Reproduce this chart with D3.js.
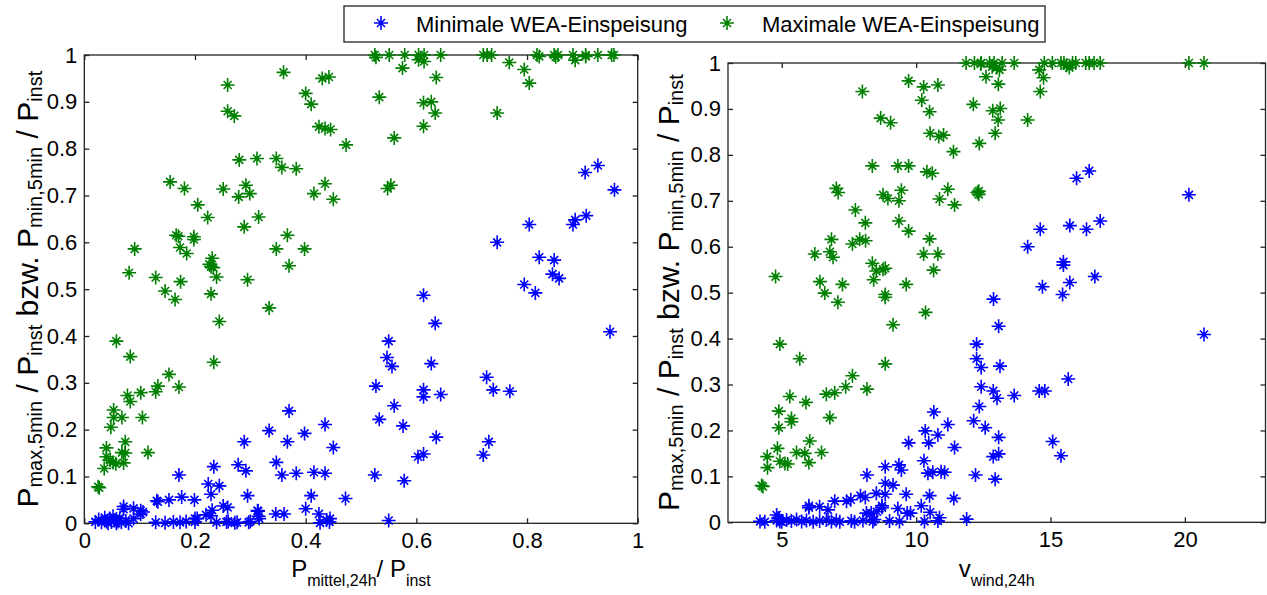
<!DOCTYPE html>
<html>
<head>
<meta charset="utf-8">
<script src="https://cdn.jsdelivr.net/npm/d3@7"></script>
<style>
body { margin: 0; background: #fff; }
svg text { font-family: "Liberation Sans", Arial, sans-serif; fill: #000; }
</style>
</head>
<body>
<script>
// series names
var legendLabels = ["Minimale WEA-Einspeisung", "Maximale WEA-Einspeisung"];

// left plot: x = P_mittel,24h / P_inst
var leftMin = [
[0.905,0.749],[0.928,0.764],[0.958,0.712],[0.804,0.638],[0.883,0.638],[0.887,0.648],[0.907,0.657],[0.746,0.600],
[0.822,0.568],[0.849,0.562],[0.846,0.532],[0.858,0.523],[0.795,0.510],[0.815,0.492],[0.613,0.487],
[0.950,0.409],[0.634,0.427],[0.550,0.389],[0.547,0.354],[0.556,0.335],[0.627,0.341],[0.527,0.293],[0.613,0.285],
[0.613,0.270],[0.644,0.275],[0.727,0.312],[0.739,0.285],[0.769,0.282],[0.560,0.251],[0.533,0.222],[0.576,0.208],
[0.636,0.184],[0.731,0.174],[0.603,0.142],[0.613,0.148],[0.721,0.146],[0.525,0.103],[0.578,0.091],[0.550,0.006],
[0.370,0.240],[0.435,0.211],[0.334,0.198],[0.398,0.192],[0.450,0.162],[0.289,0.174],[0.367,0.174],[0.347,0.130],
[0.278,0.125],[0.292,0.112],[0.234,0.121],[0.357,0.103],[0.383,0.107],[0.415,0.109],[0.435,0.107],[0.171,0.103],
[0.224,0.084],[0.244,0.080],[0.229,0.062],[0.295,0.059],[0.410,0.059],[0.472,0.053],[0.131,0.048],[0.133,0.046],
[0.153,0.050],[0.176,0.056],[0.199,0.050],[0.071,0.036],[0.071,0.030],[0.089,0.032],[0.102,0.027],[0.106,0.024],
[0.251,0.037],[0.259,0.034],[0.231,0.028],[0.220,0.018],[0.229,0.016],[0.313,0.027],[0.346,0.020],[0.361,0.020],
[0.400,0.031],[0.424,0.020],[0.438,0.007],[0.444,0.010],[0.426,0.001],[0.314,0.026],[0.316,0.010],
[0.020,0.003],[0.026,0.008],[0.031,0.002],[0.037,0.012],[0.040,0.004],[0.043,0.000],[0.046,0.010],[0.049,0.003],
[0.052,0.015],[0.055,0.006],[0.058,0.000],[0.061,0.004],[0.064,0.011],[0.067,0.002],[0.075,0.005],[0.080,0.000],
[0.089,0.010],[0.102,0.020],[0.129,0.002],[0.146,0.001],[0.161,0.003],[0.173,0.002],[0.184,0.004],[0.200,0.003],
[0.204,0.010],[0.239,0.002],[0.257,0.003],[0.272,0.001],[0.300,0.004],[0.315,0.015],[0.260,0.004],[0.276,0.002],
[0.297,0.002],[0.200,0.010],[0.443,0.003]
];
var leftMax = [
[0.525,1],[0.527,0.995],[0.551,1],[0.579,1],[0.604,1],[0.614,1],[0.604,0.99],[0.614,0.986],[0.644,1],[0.721,1],
[0.728,1],[0.736,1],[0.818,1],[0.822,0.997],[0.849,1],[0.856,1],[0.852,0.996],[0.883,1],[0.906,1],[0.906,0.997],
[0.928,1],[0.953,1],[0.957,1],
[0.575,0.972],[0.768,0.984],[0.795,0.969],[0.804,0.940],[0.887,0.989],[0.636,0.952],[0.533,0.910],[0.613,0.898],
[0.627,0.900],[0.634,0.876],[0.613,0.848],[0.746,0.876],[0.560,0.823],[0.548,0.715],[0.554,0.722],
[0.360,0.963],[0.430,0.950],[0.442,0.953],[0.259,0.936],[0.400,0.918],[0.410,0.895],[0.259,0.880],[0.271,0.870],
[0.424,0.847],[0.435,0.843],[0.445,0.841],[0.473,0.808],[0.280,0.776],[0.312,0.779],[0.347,0.779],[0.357,0.760],
[0.383,0.757],[0.155,0.729],[0.181,0.715],[0.251,0.714],[0.292,0.722],[0.279,0.697],[0.299,0.704],[0.415,0.704],
[0.435,0.725],[0.450,0.692],[0.205,0.680],[0.223,0.653],[0.315,0.654],[0.289,0.633],[0.166,0.615],[0.170,0.613],
[0.198,0.612],[0.198,0.606],[0.367,0.615],[0.091,0.586],[0.173,0.589],[0.185,0.576],[0.347,0.586],[0.398,0.586],
[0.231,0.566],[0.226,0.553],[0.229,0.548],[0.233,0.546],[0.370,0.550],[0.081,0.535],[0.129,0.525],[0.174,0.516],
[0.239,0.526],[0.295,0.520],
[0.146,0.496],[0.164,0.478],[0.229,0.490],[0.334,0.460],[0.244,0.431],[0.058,0.389],[0.083,0.356],[0.234,0.344],
[0.153,0.318],[0.133,0.293],[0.129,0.281],[0.171,0.291],[0.102,0.279],[0.078,0.273],[0.083,0.260],[0.105,0.226],
[0.053,0.242],[0.053,0.226],[0.068,0.226],[0.048,0.205],[0.040,0.161],[0.040,0.142],[0.074,0.174],[0.068,0.151],
[0.074,0.150],[0.115,0.151],[0.071,0.129],[0.052,0.130],[0.057,0.127],[0.047,0.135],[0.036,0.117],[0.025,0.078],
[0.027,0.076]
];

// right plot: x = v_wind,24h
var rightMin = [
[16.44,0.765],[15.97,0.749],[20.15,0.713],[16.85,0.656],[14.62,0.638],[15.72,0.646],[16.34,0.638],[14.15,0.600],
[15.48,0.567],[15.48,0.560],[16.65,0.535],[14.70,0.513],[15.72,0.522],[15.45,0.496],[12.88,0.486],[20.71,0.409],
[13.07,0.427],[13.12,0.340],[15.66,0.312],[12.87,0.286],[13.01,0.270],[13.65,0.276],[14.58,0.286],[14.79,0.286],
[13.07,0.185],[12.87,0.143],[13.07,0.149],[15.08,0.176],[15.39,0.145],[12.94,0.094],
[12.25,0.388],[12.25,0.356],[12.42,0.337],[12.42,0.295],[12.35,0.252],[10.66,0.240],[12.14,0.221],[12.57,0.206],
[10.34,0.199],[11.18,0.213],[10.81,0.190],[9.72,0.173],[10.47,0.173],[11.43,0.163],[8.85,0.121],[9.36,0.125],
[9.45,0.114],[10.29,0.134],[8.17,0.103],[10.44,0.107],[10.62,0.109],[10.93,0.110],[11.06,0.109],[12.21,0.103],
[8.85,0.085],[9.14,0.081],[8.52,0.063],[8.85,0.061],[9.63,0.061],[10.50,0.058],[11.40,0.052],[6.97,0.046],
[7.41,0.046],[7.57,0.049],[7.93,0.058],[8.11,0.054],[6.01,0.036],[6.01,0.032],[6.41,0.034],[6.72,0.027],
[8.73,0.036],[8.73,0.032],[10.19,0.036],[9.32,0.030],[10.52,0.022],[9.67,0.020],[9.79,0.020],[8.15,0.020],
[8.33,0.020],[8.54,0.023],[10.87,0.010],[11.88,0.007],[4.81,0.016],[4.87,0.009],
[4.19,0.002],[4.37,0.001],[4.81,0.004],[4.93,0.002],[5.18,0.005],[5.36,0.003],[5.55,0.006],[5.74,0.002],
[5.92,0.004],[6.17,0.001],[6.41,0.003],[6.66,0.005],[6.85,0.002],[7.03,0.004],[7.16,0.001],[7.59,0.003],
[7.71,0.001],[8.02,0.004],[8.39,0.002],[8.45,0.006],[9.01,0.003],[9.38,0.002],[10.31,0.002],[10.81,0.003],
[4.90,0.008],[5.00,0.001]
];
var rightMax = [
[11.86,1],[12.17,1],[12.42,1],[12.83,0.992],[12.73,1],[12.90,1],[13.00,0.99],[13.10,0.985],[13.20,1],[13.65,1],
[14.77,1],[15.07,1],[15.39,1],[15.50,1],[15.60,0.995],[15.70,0.99],[15.82,1],[15.94,1],[16.31,1],[16.44,1],
[16.62,1],[16.85,1],[20.15,1],[20.71,1],[12.40,0.998],
[12.60,0.970],[13.06,0.954],[14.58,0.985],[14.74,0.968],[14.62,0.938],[12.85,0.896],[13.13,0.901],[13.05,0.876],
[14.15,0.876],[12.94,0.847],
[9.72,0.961],[10.28,0.948],[10.81,0.952],[8.00,0.938],[10.21,0.919],[10.50,0.894],[12.13,0.910],[8.68,0.880],
[9.05,0.870],[10.52,0.847],[10.84,0.840],[11.02,0.843],[12.35,0.825],[11.39,0.807],[8.37,0.776],[9.32,0.776],
[9.72,0.776],[10.40,0.763],[10.60,0.760],[7.03,0.727],[7.10,0.718],[8.77,0.713],[8.95,0.705],[9.45,0.723],
[9.36,0.700],[11.18,0.725],[10.87,0.704],[11.43,0.691],[12.33,0.721],[12.33,0.714],[12.28,0.718],[7.74,0.680],
[8.11,0.652],[9.36,0.656],[9.72,0.634],[6.85,0.616],[7.63,0.606],[7.90,0.616],[8.12,0.613],[10.50,0.617],
[6.23,0.584],[6.79,0.589],[6.91,0.577],[10.28,0.584],[10.81,0.584],[8.37,0.564],[8.52,0.547],[8.77,0.551],
[8.85,0.553],[10.65,0.549],[4.77,0.535],[6.42,0.524],[7.26,0.518],[8.42,0.528],[9.63,0.518],[6.60,0.499],
[8.85,0.496],
[7.09,0.479],[8.85,0.490],[10.35,0.457],[9.14,0.430],[4.93,0.388],[5.67,0.356],[8.85,0.345],[7.63,0.319],
[7.38,0.295],[6.66,0.279],[6.97,0.282],[8.17,0.290],[5.30,0.274],[5.90,0.261],[4.89,0.242],[5.36,0.226],
[5.36,0.219],[6.79,0.228],[4.89,0.206],[6.04,0.177],[4.84,0.161],[5.55,0.152],[5.86,0.150],[6.01,0.130],
[6.48,0.152],[4.46,0.143],[4.93,0.133],[5.12,0.128],[5.22,0.127],[4.47,0.119],[4.25,0.080],[4.30,0.078]
];

var leftXTicks = [0, 0.2, 0.4, 0.6, 0.8, 1];
var rightXTicks = [5, 10, 15, 20];
var yTicks = [0, 0.1, 0.2, 0.3, 0.4, 0.5, 0.6, 0.7, 0.8, 0.9, 1];

var width = 1267, height = 595;
var colMin = "#0000ff", colMax = "#008000";

var svg = d3.select("body").append("svg")
    .attr("width", width)
    .attr("height", height);

// MATLAB style '*' marker
var star = "M-7,0H7M0,-7V7M-4,-4L4,4M-4,4L4,-4";

function fmt(d) { return d3.format("")(+d.toFixed(1)); }

function panel(opt) {
    var x = d3.scaleLinear().domain(opt.xdom).range([opt.left, opt.right]);
    var y = d3.scaleLinear().domain([0, 1]).range([opt.bottom, opt.top]);
    var g = svg.append("g");

    g.append("rect")
        .attr("x", opt.left).attr("y", opt.top)
        .attr("width", opt.right - opt.left).attr("height", opt.bottom - opt.top)
        .attr("fill", "#fff").attr("stroke", "#222").attr("stroke-width", 1.3);

    var ax = [
        [d3.axisBottom(x).tickValues(opt.xticks).tickFormat(opt.xfmt), "translate(0," + opt.bottom + ")"],
        [d3.axisTop(x).tickValues(opt.xticks).tickFormat(""), "translate(0," + opt.top + ")"],
        [d3.axisLeft(y).tickValues(yTicks).tickFormat(fmt), "translate(" + opt.left + ",0)"],
        [d3.axisRight(y).tickValues(yTicks).tickFormat(""), "translate(" + opt.right + ",0)"]
    ];
    ax.forEach(function (a, i) {
        a[0].tickSizeInner(-5).tickSizeOuter(0).tickPadding(i == 0 ? 9 : 7);
        var ga = g.append("g").attr("transform", a[1]).call(a[0]);
        ga.select(".domain").remove();
        ga.selectAll(".tick line").attr("stroke", "#222").attr("stroke-width", 1.3);
        ga.selectAll("text").style("font-size", "22px").attr("fill", "#000")
            .style("font-family", "'Liberation Sans', Arial, sans-serif");
    });

    [[opt.min, colMin], [opt.max, colMax]].forEach(function (s) {
        g.append("g").selectAll("path")
            .data(s[0]).enter()
            .append("path")
            .attr("d", star)
            .attr("transform", function (d) { return "translate(" + x(d[0]) + "," + y(d[1]) + ")"; })
            .attr("fill", "none")
            .attr("stroke", s[1])
            .attr("stroke-width", 1.6);
    });

    // x label
    var xl = g.append("text")
        .attr("x", (opt.left + opt.right) / 2).attr("y", 577)
        .attr("text-anchor", "middle").style("font-size", "24px");
    opt.xlabel.forEach(function (p) {
        xl.append("tspan").text(p[0])
            .style("font-size", p[1] ? "16px" : "24px")
            .attr("dy", p[1] ? 9 : (p[2] || 0));
    });

    // y label
    var yl = g.append("text")
        .attr("transform", "translate(" + opt.ylx + "," + (opt.top + opt.bottom) / 2 + ")rotate(-90)")
        .attr("text-anchor", "middle").style("font-size", "30px");
    var parts = [["P"], ["max,5min", 1], [" / ", 0, -4], ["P"], ["inst", 1], [" bzw. ", 0, -4],
                 ["P"], ["min,5min", 1], [" / ", 0, -4], ["P"], ["inst", 1]];
    parts.forEach(function (p) {
        yl.append("tspan").text(p[0])
            .style("font-size", p[1] ? "20px" : "30px")
            .attr("dy", p[1] ? 4 : (p[2] || 0));
    });
}

panel({
    left: 84.3, right: 637.7, top: 55, bottom: 523.3,
    xdom: [0, 1], xticks: leftXTicks, xfmt: fmt,
    min: leftMin, max: leftMax, ylx: 38,
    xlabel: [["P"], ["mittel,24h", 1], ["/ P", 0, -9], ["inst", 1]]
});

panel({
    left: 728, right: 1265.5, top: 63, bottom: 522.3,
    xdom: [3, 23], xticks: rightXTicks, xfmt: d3.format("d"),
    min: rightMin, max: rightMax, ylx: 679,
    xlabel: [["v"], ["wind,24h", 1]]
});

// legend
var lg = svg.append("g");
lg.append("rect")
    .attr("x", 344).attr("y", 6).attr("width", 701).attr("height", 36)
    .attr("fill", "#fff").attr("stroke", "#222").attr("stroke-width", 1.3);
var legX = [381, 727];
legendLabels.forEach(function (t, i) {
    lg.append("path").attr("d", star)
        .attr("transform", "translate(" + legX[i] + ",23)")
        .attr("fill", "none").attr("stroke", i == 0 ? colMin : colMax).attr("stroke-width", 1.6);
    lg.append("text").attr("x", legX[i] + 35).attr("y", 32)
        .style("font-size", "22px").text(t);
});
</script>
</body>
</html>
